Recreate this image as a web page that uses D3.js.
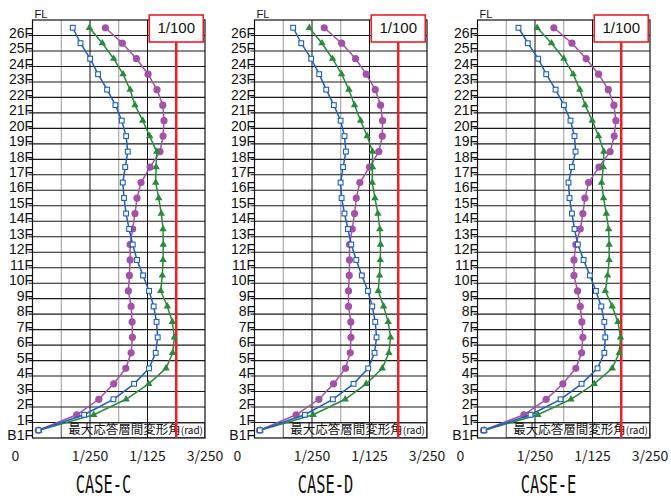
<!DOCTYPE html>
<html>
<head>
<meta charset="utf-8">
<script src="https://cdn.jsdelivr.net/npm/d3@7"></script>
<style>
  html, body { margin: 0; padding: 0; background: #fff; }
  svg { display: block; }
</style>
</head>
<body>
<svg id="chart" width="671" height="499"></svg>
<script>
// Maximum story drift angle per story (×10⁻³ rad), listed from the B1 story up to the 26th story.
const cases = ["CASE-C", "CASE-D", "CASE-E"];
const floorLabels = ["B1F","1F","2F","3F","4F","5F","6F","7F","8F","9F","10F","11F","12F","13F",
  "14F","15F","16F","17F","18F","19F","20F","21F","22F","23F","24F","25F","26F"];
const xTickValues = [0, 4, 8, 12];
const xTickLabels = ["0", "1/250", "1/125", "3/250"];
const limitValue = 10;           // 1/100 rad
const limitLabel = "1/100";

const blueC   = [0.42,3.59,5.63,7.07,8.11,8.57,8.71,8.63,8.43,8.11,7.69,7.27,6.97,6.72,6.51,6.37,6.28,6.45,6.63,6.51,6.21,5.77,5.19,4.56,4.01,3.34,2.80];
const greenC  = [0.45,4.26,6.51,8.08,9.29,9.75,9.87,9.73,9.38,8.92,9.03,9.08,9.10,9.08,8.96,8.78,8.57,8.60,8.64,8.15,7.67,7.13,6.79,6.30,5.65,4.86,3.96];
const purpleC = [0.40,3.08,4.61,5.65,6.49,6.86,6.95,6.93,6.86,6.67,6.74,6.79,6.79,6.97,7.13,7.27,7.55,8.18,8.87,9.08,9.15,9.06,8.66,8.04,7.23,6.25,5.07];

const blueD   = [0.37,3.50,5.45,6.89,7.91,8.35,8.49,8.40,8.19,7.89,7.47,7.08,6.73,6.50,6.26,6.06,5.99,6.16,6.36,6.26,5.99,5.52,4.99,4.50,3.94,3.25,2.69];
const greenD  = [0.40,4.08,6.31,7.77,8.89,9.35,9.47,9.30,8.98,8.61,8.70,8.75,8.77,8.72,8.58,8.38,8.19,8.21,8.21,7.84,7.38,6.96,6.57,6.06,5.43,4.69,3.81];
const purpleD = [0.35,2.90,4.48,5.50,6.33,6.66,6.71,6.70,6.54,6.54,6.59,6.61,6.61,6.80,6.96,7.08,7.33,8.00,8.65,8.89,8.91,8.77,8.40,7.77,7.03,6.06,4.85];

const blueE   = [0.44,3.69,5.78,7.24,8.35,8.82,8.89,8.82,8.61,8.24,7.82,7.38,6.98,6.75,6.57,6.40,6.33,6.57,6.82,6.75,6.47,6.01,5.43,4.78,4.22,3.50,2.85];
const greenE  = [0.47,4.20,6.50,8.12,9.37,9.86,9.95,9.77,9.37,8.89,9.05,9.16,9.16,9.12,8.96,8.77,8.63,8.75,8.79,8.42,7.98,7.49,7.12,6.66,6.01,5.15,4.15];
const purpleE = [0.42,3.23,4.78,5.94,6.84,7.24,7.33,7.26,7.15,6.96,6.71,6.71,6.84,7.15,7.33,7.47,7.73,8.45,9.23,9.51,9.63,9.49,9.10,8.42,7.56,6.57,5.31];

const panelSeries = [
  { blue: blueC, green: greenC, purple: purpleC },
  { blue: blueD, green: greenD, purple: purpleD },
  { blue: blueE, green: greenE, purple: purpleE }
];

const COLORS = { blue: "#1f5fc2", green: "#2b8a3c", purple: "#a452a8", red: "#ee1f26" };

const svg = d3.select("#chart");
const panelLeft = [32.5, 254.5, 477.5];
const plotW = 172.5, plotTop = 20, plotBottom = 438;
const levels = floorLabels.length; // floor lines B1F..26F, plus the roof at the top

panelSeries.forEach((series, pi) => {
  const x0 = panelLeft[pi];
  const x = d3.scaleLinear().domain([0, 12]).range([x0, x0 + plotW]);
  const y = d3.scaleLinear().domain([0, levels]).range([plotBottom, plotTop]);
  const g = svg.append("g");

  const minorVals = [2, 6];
  const majorVals = [4, 8];

  // minor vertical grid
  g.selectAll("line.vmin").data(minorVals).join("line")
    .attr("x1", d => x(d)).attr("x2", d => x(d))
    .attr("y1", plotTop).attr("y2", plotBottom)
    .attr("stroke", "#9a9a9a").attr("stroke-width", 1);

  // horizontal floor lines, with short outward ticks
  g.selectAll("line.hg").data(d3.range(1, levels)).join("line")
    .attr("x1", x0 - 4).attr("x2", x0 + plotW)
    .attr("y1", d => y(d)).attr("y2", d => y(d))
    .attr("stroke", "#1a1a1a").attr("stroke-width", 1.1);

  // axis title box in the lowest story
  const boxL = x(2);
  g.append("rect")
    .attr("x", boxL).attr("y", y(1) + 0.6).attr("width", x0 + plotW - boxL - 0.6)
    .attr("height", y(0) - y(1) - 1.2).attr("fill", "#fff")
    .attr("stroke", "#444").attr("stroke-width", 0.8);
  const tt = g.append("text").attr("x", x0 + plotW - 2).attr("y", (y(0) + y(1)) / 2 + 1)
    .attr("text-anchor", "end").attr("dominant-baseline", "middle")
    .attr("font-family", "Noto Sans CJK JP, sans-serif").attr("fill", "#111");
  tt.append("tspan").attr("font-size", 12.5).text("最大応答層間変形角");
  tt.append("tspan").attr("font-size", 10).text("(rad)");

  // major vertical grid, drawn over the title box
  g.selectAll("line.vmaj").data(majorVals).join("line")
    .attr("x1", d => x(d)).attr("x2", d => x(d))
    .attr("y1", plotTop).attr("y2", plotBottom)
    .attr("stroke", "#111").attr("stroke-width", 1);

  // frame
  g.append("rect")
    .attr("x", x0).attr("y", plotTop).attr("width", plotW).attr("height", plotBottom - plotTop)
    .attr("fill", "none").attr("stroke", "#111").attr("stroke-width", 1.2);

  // floor labels
  g.selectAll("text.fl").data(floorLabels).join("text")
    .attr("x", x0 + 0.5).attr("y", (d, i) => y(i) - 1.5)
    .attr("text-anchor", "end").attr("dominant-baseline", "middle")
    .attr("font-family", "Liberation Sans, Arial, sans-serif").attr("font-size", 14)
    .attr("fill", "#111").text(d => d);

  g.append("text").attr("x", x0 + 2).attr("y", 15)
    .attr("dominant-baseline", "middle")
    .attr("font-family", "Liberation Sans, Arial, sans-serif").attr("font-size", 11)
    .attr("fill", "#111").text("FL");

  // x tick labels
  g.selectAll("text.xt").data(xTickValues).join("text")
    .attr("x", (d, i) => x(d) + (i === 0 ? -17 : 0)).attr("y", 457)
    .attr("text-anchor", "middle").attr("dominant-baseline", "middle")
    .attr("font-family", "Noto Sans CJK JP, sans-serif").attr("font-size", 14)
    .attr("fill", "#1a1a1a").text((d, i) => xTickLabels[i]);

  // 1/100 limit line and its label
  g.append("line")
    .attr("x1", x(limitValue)).attr("x2", x(limitValue))
    .attr("y1", 40).attr("y2", plotBottom)
    .attr("stroke", COLORS.red).attr("stroke-width", 2.5);
  g.append("rect")
    .attr("x", x(limitValue) - 27).attr("y", 15).attr("width", 54).attr("height", 27)
    .attr("fill", "#fff").attr("stroke", COLORS.red).attr("stroke-width", 1.6);
  g.append("text").attr("x", x(limitValue)).attr("y", 29)
    .attr("text-anchor", "middle").attr("dominant-baseline", "middle")
    .attr("font-family", "Liberation Sans, Arial, sans-serif").attr("font-size", 15)
    .attr("fill", "#111").text(limitLabel);

  // series
  const line = d3.line().x(d => x(d)).y((d, i) => y(i + 0.5));
  const drawLine = (vals, color) => g.append("path").datum(vals)
    .attr("d", line).attr("fill", "none").attr("stroke", color).attr("stroke-width", 1.5);

  // purple circles
  drawLine(series.purple, COLORS.purple);
  g.selectAll("circle.p").data(series.purple).join("circle")
    .attr("cx", d => x(d)).attr("cy", (d, i) => y(i + 0.5)).attr("r", 3.6)
    .attr("fill", COLORS.purple);

  // green triangles
  drawLine(series.green, COLORS.green);
  const tri = d3.symbol().type(d3.symbolTriangle).size(24);
  g.selectAll("path.t").data(series.green).join("path")
    .attr("d", tri)
    .attr("transform", (d, i) => `translate(${x(d)},${y(i + 0.5)})`)
    .attr("fill", COLORS.green);

  // blue hollow squares
  drawLine(series.blue, COLORS.blue);
  g.selectAll("rect.b").data(series.blue).join("rect")
    .attr("x", d => x(d) - 2.4).attr("y", (d, i) => y(i + 0.5) - 2.4)
    .attr("width", 4.8).attr("height", 4.8)
    .attr("fill", "#fff").attr("stroke", COLORS.blue).attr("stroke-width", 1.1);

  // case caption
  g.append("text")
    .attr("transform", `translate(${x0 + 71},${492.5}) scale(0.64,1)`)
    .attr("text-anchor", "middle")
    .attr("font-family", "DejaVu Sans Mono, monospace").attr("font-size", 24)
    .attr("fill", "#111").text(cases[pi]);
});
</script>
</body>
</html>
